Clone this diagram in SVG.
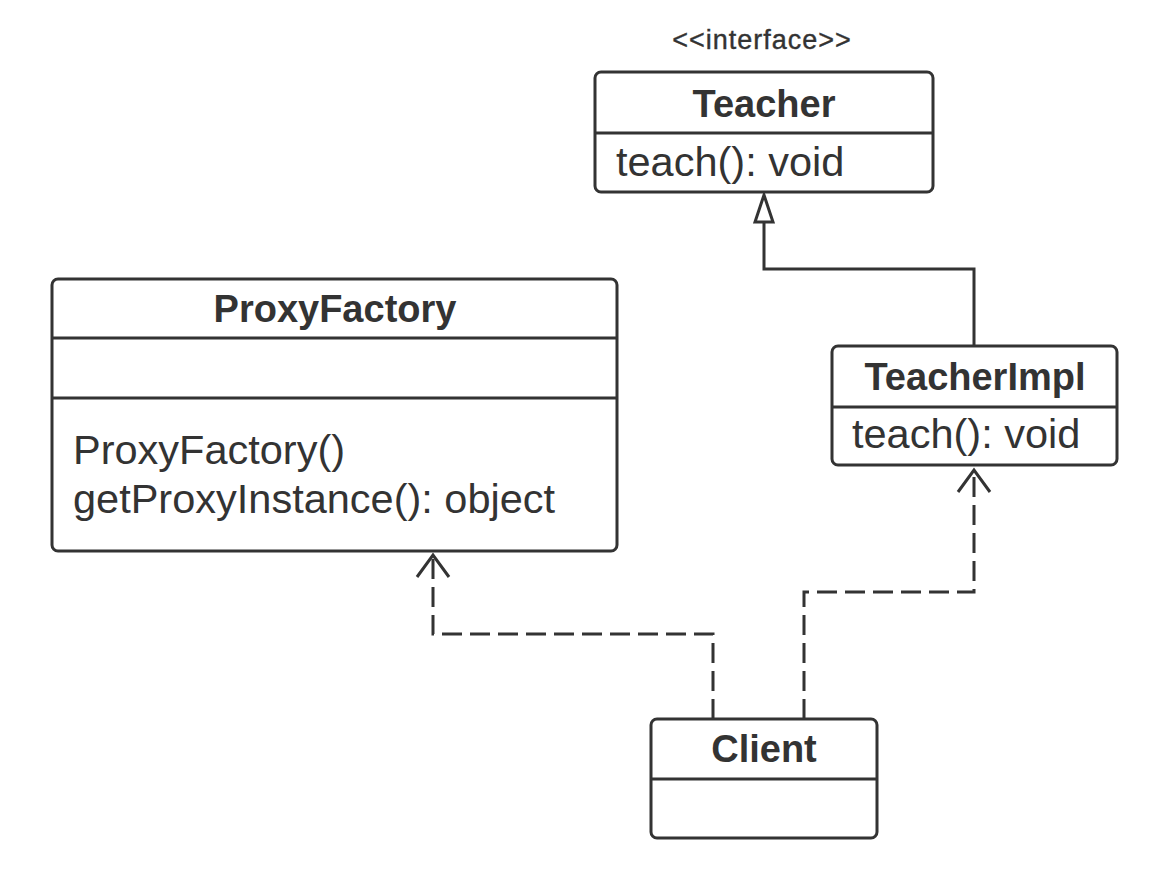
<svg xmlns="http://www.w3.org/2000/svg" width="1166" height="886" viewBox="0 0 1166 886">
<defs>
<style>
.box{fill:#fff;stroke:#333;stroke-width:3}
.div{stroke:#333;stroke-width:3}
.title{font-family:"Liberation Sans",Arial,sans-serif;font-weight:bold;font-size:38px;fill:#333;text-anchor:middle}
.body{font-family:"Liberation Sans",Arial,sans-serif;font-size:41.5px;fill:#333}
.stereo{font-family:"Liberation Sans",Arial,sans-serif;font-size:27px;fill:#333;text-anchor:middle;stroke:#333;stroke-width:0.4}
.conn{fill:none;stroke:#333;stroke-width:3}
.dash{stroke-dasharray:20 8}
</style>
</defs>
<rect width="1166" height="886" fill="#fff"/>
<g id="connectors">
<path class="conn" d="M974 345 V269 H764 V222"/>
<polygon points="764,195 755,222 773,222" fill="#fff" stroke="#333" stroke-width="3"/>
<path class="conn dash" d="M713 719 V634 H433 V556"/>
<path class="conn" d="M417 577 L433 555 L449 577"/>
<path class="conn dash" d="M804 719 V592 H974 V469"/>
<path class="conn" d="M958 492 L974 470 L990 492"/>
</g>
<g id="teacher">
<text class="stereo" x="762" y="49" letter-spacing="1">&lt;&lt;interface&gt;&gt;</text>
<rect class="box" x="595" y="72" width="338" height="120" rx="6"/>
<line class="div" x1="595" y1="133" x2="933" y2="133"/>
<text class="title" x="764" y="117">Teacher</text>
<text class="body" x="616" y="176">teach(): void</text>
</g>
<g id="proxyfactory">
<rect class="box" x="52" y="279" width="565" height="272" rx="6"/>
<line class="div" x1="52" y1="338" x2="617" y2="338"/>
<line class="div" x1="52" y1="398" x2="617" y2="398"/>
<text class="title" x="335" y="322">ProxyFactory</text>
<text class="body" x="73" y="464">ProxyFactory()</text>
<text class="body" x="73" y="513">getProxyInstance(): object</text>
</g>
<g id="teacherimpl">
<rect class="box" x="832" y="346" width="285" height="119" rx="6"/>
<line class="div" x1="832" y1="407" x2="1117" y2="407"/>
<text class="title" x="975" y="390">TeacherImpl</text>
<text class="body" x="852" y="448">teach(): void</text>
</g>
<g id="client">
<rect class="box" x="651" y="719" width="226" height="119" rx="6"/>
<line class="div" x1="651" y1="779" x2="877" y2="779"/>
<text class="title" x="764" y="762">Client</text>
</g>
</svg>
